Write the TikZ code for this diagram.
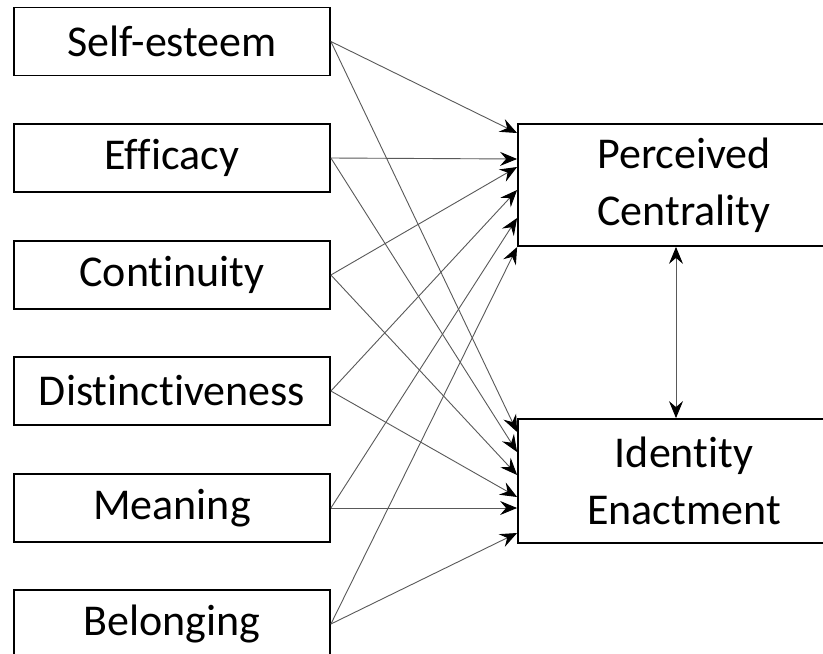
\documentclass[tikz,border=0pt]{standalone}
\usepackage{fontspec}
\setmainfont{Carlito}[RawFeature=-liga]
\usetikzlibrary{arrows.meta}
\tikzset{
  factor/.style={draw, line width=1.8pt, minimum width=316pt, minimum height=68pt, inner sep=0pt, font=\fontsize{44}{57}\selectfont},
  outcome/.style={draw, line width=1.8pt, minimum width=332pt, minimum height=122pt, inner sep=0pt, align=center, font=\fontsize{44}{57}\selectfont},
  path/.style={draw=black!65, line width=0.9pt, -{Stealth[color=black, length=17pt, width=14pt, inset=6pt]}},
}
\begin{document}
\begin{tikzpicture}[x=1pt, y=-1pt]
    \useasboundingbox (0,0) rectangle (823,654);
    \clip (0,0) rectangle (823,654);
    \fill[white] (0,0) rectangle (823,654);
    \node[factor] (se) at (172,41.5){Self-esteem};
    \node[factor] (ef) at (172,158){Efficacy};
    \node[factor] (co) at (172,275){Continuity};
    \node[factor] (di) at (172,391){Distinctiveness};
    \node[factor] (me) at (172,508){Meaning};
    \node[factor] (be) at (172,624){Belonging};
    \node[outcome] (pc) at (684,185){Perceived\\Centrality};
    \node[outcome, minimum height=124pt] (ie) at (684,481){Identity\\Enactment};
    \foreach \src/\pcy/\iey in {se/133/432, ef/159/452, co/167/475, di/190/497, me/218/508, be/247/533}{
      \coordinate (pc-\src) at (pc.west |- 0,\pcy);
      \coordinate (ie-\src) at (ie.west |- 0,\iey);
      \draw[path] (\src.east) -- (pc-\src);
      \draw[path] (\src.east) -- (ie-\src);
    }
    \draw[draw=black!65, line width=0.9pt, {Stealth[color=black, length=17pt, width=14pt, inset=6pt]}-{Stealth[color=black, length=17pt, width=14pt, inset=6pt]}] ([xshift=-8pt]pc.south) -- ([xshift=-8pt]ie.north);
  \end{tikzpicture}
\end{document}
